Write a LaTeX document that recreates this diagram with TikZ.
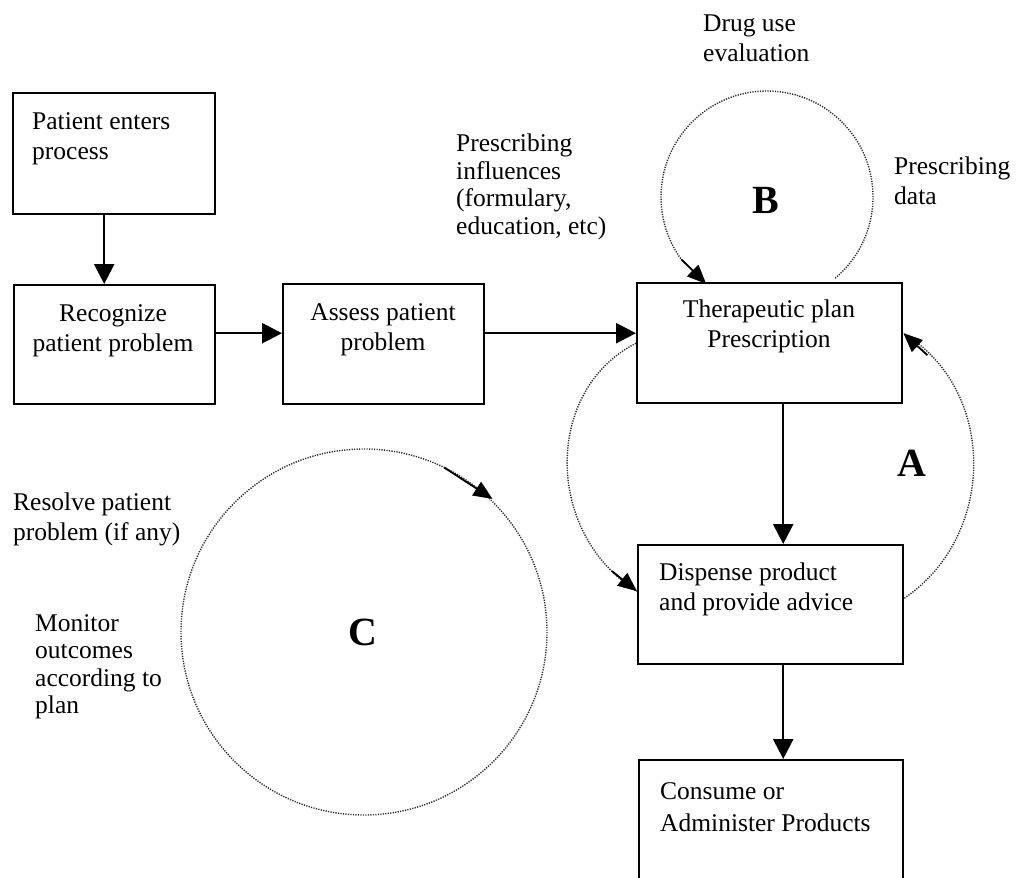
\documentclass[tikz,border=0pt]{standalone}
\usepackage{fontspec}
\setmainfont{Liberation Serif}
\usetikzlibrary{arrows.meta,calc}
\begin{document}
\begin{tikzpicture}[x=1pt,y=-1pt,
  box/.style={draw, line width=2.4pt, inner sep=0pt, anchor=north west},
  lbl/.style={inner sep=0pt, font=\fontsize{25.5}{30}\selectfont},
  lbltight/.style={inner sep=0pt, font=\fontsize{25.5}{27.5}\selectfont},
  big/.style={inner sep=0pt, font=\fontsize{40}{40}\selectfont\bfseries},
  flow/.style={line width=2.4pt, -{Triangle[length=20pt,width=20pt]}},
  loopline/.style={line width=1.4pt, black!85, dash pattern=on 1.2pt off 1.3pt},
  looparrow/.style={line width=1.8pt, -{Triangle[length=19pt,width=16pt]}},
]
\useasboundingbox (0,0) rectangle (1024,877);
\clip (0,0) rectangle (1024,877);

% boxes
\node[box, minimum width=202pt, minimum height=121pt] (pat)  at (12,92)  {};
\node[box, minimum width=201pt, minimum height=119pt] (rec)  at (13,284) {};
\node[box, minimum width=201pt, minimum height=120pt] (ass)  at (282,283) {};
\node[box, minimum width=265pt, minimum height=120pt] (ther) at (636,282) {};
\node[box, minimum width=265pt, minimum height=119pt] (disp) at (637,544) {};
\node[box, minimum width=264pt, minimum height=150pt] (cons) at (638,759) {};

% box texts
\node[lbl, anchor=north west, align=left]   (patT)  at (32,112)  {Patient enters\\process};
\node[lbl, anchor=north, align=center]      (recT)  at (113,304) {Recognize\\patient problem};
\node[lbl, anchor=north, align=center]      (assT)  at (383,303) {Assess patient\\problem};
\node[lbl, anchor=north, align=center]      (therT) at (769,300) {Therapeutic plan\\Prescription};
\node[lbl, anchor=north west, align=left]   (dispT) at (659,563) {Dispense product\\and provide advice};
\node[lbl, anchor=north west, align=left, font=\fontsize{25.5}{32}\selectfont] (consT) at (660,782) {Consume or\\Administer Products};

% free labels
\node[lbl, anchor=north west, align=left]      (drug)  at (703,15)  {Drug use\\evaluation};
\node[lbl, anchor=north west, align=left]      (pdata) at (894,157) {Prescribing\\data};
\node[lbltight, anchor=north west, align=left] (pinf)  at (456,134) {Prescribing\\influences\\(formulary,\\education, etc)};
\node[lbl, anchor=north west, align=left]      (reso)  at (13,493)  {Resolve patient\\problem (if any)};
\node[lbltight, anchor=north west, align=left] (moni)  at (35,614)  {Monitor\\outcomes\\according to\\plan};

% loop letters
\node[big] (A) at (912,463) {A};
\node[big] (B) at (766,200) {B};
\node[big] (C) at (363,632) {C};

% main flow
\draw[flow] ([xshift=-10pt]pat.south) -- ([xshift=-10pt]pat.south |- rec.north);
\draw[flow] ([yshift=11.5pt]rec.east) -- ([yshift=11.5pt]rec.east -| ass.west);
\draw[flow] ([yshift=11pt]ass.east) -- ([yshift=11pt]ass.east -| ther.west);
\draw[flow] ([xshift=13.5pt]ther.south) -- ([xshift=13.5pt]ther.south |- disp.north);
\draw[flow] ([xshift=12.5pt]disp.south) -- ([xshift=12.5pt]disp.south |- cons.north);

% loop B
\coordinate (Bc) at (767,197);
\draw[loopline] ([shift={(50:106)}]Bc) arc[start angle=50, end angle=-216, radius=106];
\draw[looparrow] ([shift={(-216:106)}]Bc) -- ([shift={(-235:106)}]Bc);

% loop A
\coordinate (Aend) at ([yshift=13.5pt]disp.west);
\coordinate (Rst)  at ([yshift=6.5pt]disp.east);
\coordinate (Rend) at ([yshift=10pt]ther.east);
\draw[loopline] (ther.west) .. controls (544,390) and (544,533) .. (Aend);
\draw[looparrow] ($(Aend)+(-25,-20)$) -- (Aend);
\draw[loopline] (Rst) .. controls (997,535) and (997,390) .. (Rend);
\draw[looparrow] ($(Rend)+(24,22)$) -- (Rend);

% loop C
\coordinate (Cc) at (364,632);
\draw[loopline] (Cc) circle[radius=183];
\draw[looparrow] ([shift={(-64:183)}]Cc) -- ([shift={(-46:185)}]Cc);
\end{tikzpicture}
\end{document}
